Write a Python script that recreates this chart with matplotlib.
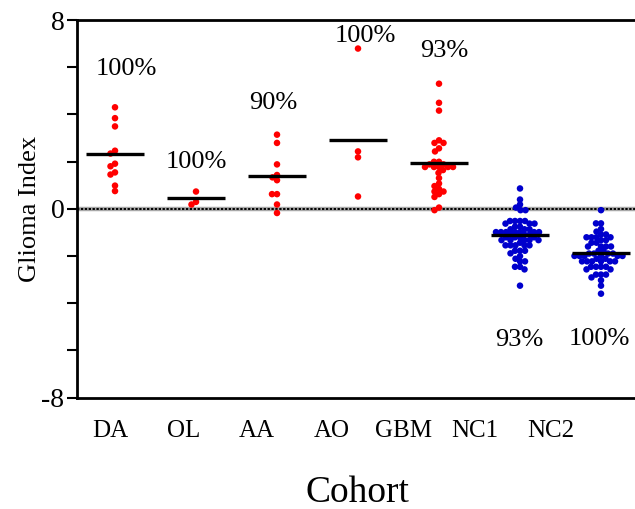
import matplotlib
matplotlib.use('Agg')
import matplotlib.pyplot as plt
import numpy as np

plt.rcParams['font.family'] = ['Liberation Serif', 'DejaVu Serif']

# cohorts and glioma index values
groups = ['DA', 'OL', 'AA', 'AO', 'GBM', 'NC1', 'NC2']
da = [4.30, 3.84, 3.49, 2.46, 2.34, 1.91, 1.80, 1.54, 1.45, 0.98, 0.75]
ol = [0.73, 0.29, 0.18]
aa = [3.14, 2.79, 1.88, 1.43, 1.33, 1.21, 0.62, 0.62, 0.18, -0.18]
ao = [6.79, 2.43, 2.18, 0.52]
gbm = [5.30, 4.49, 4.16, 2.90, 2.79, 2.79, 2.56, 2.43, 1.99, 1.99,
       1.88, 1.88, 1.77, 1.77, 1.77, 1.77, 1.77, 1.64, 1.52, 1.30,
       1.07, 0.96, 0.84, 0.73, 0.73, 0.62, 0.50, 0.05, -0.06]
nc1 = [0.86, 0.39, 0.18, 0.05, -0.06, -0.06, -0.52, -0.52, -0.52, -0.52,
       -0.63, -0.63, -0.63, -0.76, -0.76, -0.87, -0.87, -0.87,
       -0.99, -0.99, -0.99, -0.99, -0.99, -0.99, -0.99, -1.10, -1.10, -1.10,
       -1.21, -1.21, -1.21, -1.21, -1.33, -1.33, -1.33, -1.33, -1.33,
       -1.44, -1.55, -1.55, -1.55, -1.55, -1.55, -1.78, -1.78, -1.78,
       -1.89, -2.01, -2.12, -2.23, -2.23, -2.46, -2.46, -2.57, -3.26]
nc2 = [-0.06, -0.62, -0.62, -0.86, -0.97, -1.09, -1.09,
       -1.21, -1.21, -1.21, -1.21, -1.33, -1.33, -1.44, -1.44,
       -1.60, -1.60, -1.60, -1.60, -1.78, -1.78, -1.90, -1.90, -1.90, -1.90,
       -2.00, -2.00, -2.00, -2.00, -2.00, -2.00, -2.12, -2.12,
       -2.23, -2.23, -2.23, -2.23, -2.23, -2.23, -2.46, -2.46, -2.46, -2.46,
       -2.57, -2.57, -2.79, -2.79, -2.79, -2.91, -3.03, -3.26, -3.60]
values = [da, ol, aa, ao, gbm, nc1, nc2]
means = [2.30, 0.45, 1.40, 2.90, 1.95, -1.13, -1.87]
colors = ['#ff0000'] * 5 + ['#0000cc'] * 2

pct_text = ['100%', '100%', '90%', '100%', '93%', '93%', '100%']
pct_x = [1.14, 2.0, 2.95, 4.09, 5.06, 5.99, 6.98]
pct_y = [5.94, 1.98, 4.49, 7.34, 6.70, -5.55, -5.51]
label_x = [0.94, 1.85, 2.75, 3.68, 4.56, 5.44, 6.38]

XPX = 81.0   # pixels per x unit
YPX = 23.5   # pixels per y unit


def swarm(vals, d=4.9):
    # simple beeswarm, works in pixel space
    vals = np.asarray(vals)
    offs = np.zeros(len(vals))
    placed = []
    cands = sorted(np.arange(-60, 60.01, 0.5), key=abs)
    for i in np.argsort(-vals):
        y = vals[i] * YPX
        for o in cands:
            if all((o - px) ** 2 + (y - py) ** 2 >= d * d for px, py in placed):
                break
        placed.append((o, y))
        offs[i] = o / XPX
    return offs


fig = plt.figure(figsize=(6.35, 5.09), dpi=100)
ax = fig.add_axes([77 / 635, 1 - 397.5 / 509, 1 - 77 / 635, (397.5 - 20) / 509])

ax.axhline(0, color='#a8a8a8', lw=3.2, zorder=1)
ax.axhline(0, color='black', lw=1.4, ls=(0, (1.2, 0.8)), zorder=1)

for i, v in enumerate(values):
    pos = i + 1
    ax.scatter(pos + swarm(v), v, s=22, color=colors[i], edgecolors='none', zorder=3)
    ax.hlines(means[i], pos - 0.36, pos + 0.36, color='black', lw=2.4, zorder=4)
    ax.text(pct_x[i], pct_y[i], pct_text[i], ha='center', va='center', fontsize=19)

ax.set_xlim(1 - 38 / XPX, 7 + 34 / XPX)
ax.set_ylim(-8, 8)
ax.set_yticks([-8, 0, 8])
ax.set_yticklabels(['-8', '0', '8'])
ax.set_yticks([-6, -4, -2, 2, 4, 6], minor=True)
ax.tick_params(axis='y', which='both', length=7, width=1.5, direction='out', labelsize=20, pad=2)
ax.set_xticks(label_x)
ax.set_xticklabels(groups)
ax.tick_params(axis='x', length=0, labelsize=18, pad=16)

ax.spines['right'].set_visible(False)
for s in ['left', 'top', 'bottom']:
    ax.spines[s].set_linewidth(2)

ax.set_ylabel('Glioma Index', fontsize=19, labelpad=0)
fig.text(357 / 635, 1 - 493 / 509, 'Cohort', ha='center', va='center', fontsize=27)

fig.savefig('out.png', dpi=100)
